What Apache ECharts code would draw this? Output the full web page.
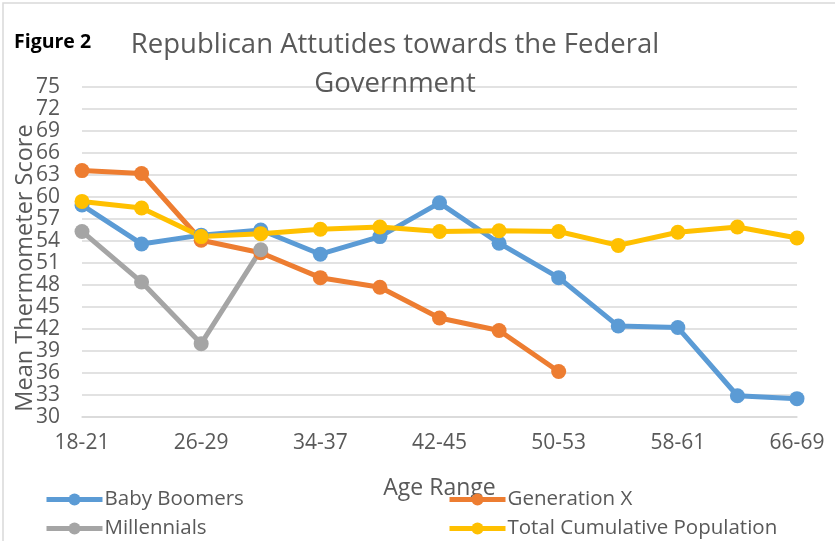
<!DOCTYPE html>
<html>
<head>
<meta charset="utf-8">
<script src="https://cdn.jsdelivr.net/npm/echarts@6/dist/echarts.min.js"></script>
<style>
  html, body { margin: 0; padding: 0; background: #fff; }
  #chart { width: 835px; height: 541px; }
</style>
</head>
<body>
<div id="chart"></div>
<script>
  // 年龄段
  var ageRanges = ['18-21', '22-25', '26-29', '30-33', '34-37', '38-41', '42-45',
                   '46-49', '50-53', '54-57', '58-61', '62-65', '66-69'];
  var babyBoomers = [58.9, 53.6, 54.8, 55.5, 52.2, 54.6, 59.2, 53.7, 49.0, 42.4, 42.2, 32.9, 32.5];
  var generationX = [63.6, 63.2, 54.1, 52.4, 49.0, 47.7, 43.5, 41.8, 36.2];
  var millennials = [55.3, 48.4, 40.0, 52.8];
  var totalPop = [59.4, 58.5, 54.6, 55.0, 55.6, 55.9, 55.3, 55.4, 55.3, 53.4, 55.2, 55.9, 54.4];

  var font = '"Open Sans", Lato, sans-serif';
  var grey = '#595959';

  var myChart = echarts.init(document.getElementById('chart'));

  function lineSeries(name, color, data) {
    return {
      name: name,
      type: 'line',
      data: data,
      symbol: 'circle',
      symbolSize: 15,
      lineStyle: { color: color, width: 5 },
      itemStyle: { color: color },
      animation: false
    };
  }

  function legendAt(name, left, top) {
    return {
      data: [name],
      left: left,
      top: top,
      itemWidth: 56,
      itemHeight: 15,
      itemGap: 4,
      padding: 0,
      lineStyle: { width: 5 },
      textStyle: { color: grey, fontSize: 20.5, fontFamily: font, padding: [0, 0, 0, -3] }
    };
  }

  var option = {
    backgroundColor: '#fff',
    title: [
      {
        text: 'Republican Attutides towards the Federal\nGovernment',
        left: 390,
        top: 21,
        textAlign: 'center',
        textStyle: { color: grey, fontSize: 27.5, fontWeight: 'normal', fontFamily: font, lineHeight: 39 }
      },
      {
        text: 'Figure 2',
        left: 9,
        top: 27,
        textStyle: { color: '#000', fontSize: 19.5, fontWeight: 'bold', fontFamily: font }
      }
    ],
    legend: [
      legendAt('Baby Boomers', 44, 489),
      legendAt('Generation X', 447, 489),
      legendAt('Millennials', 44, 518),
      legendAt('Total Cumulative Population', 447, 518)
    ],
    grid: { left: 82, right: 38, top: 87, bottom: 124 },
    xAxis: {
      type: 'category',
      data: ageRanges,
      boundaryGap: false,
      name: 'Age Range',
      nameLocation: 'middle',
      nameGap: 60,
      nameTextStyle: { color: grey, fontSize: 23, fontFamily: font },
      axisLine: { lineStyle: { color: '#D9D9D9', width: 1.5 } },
      axisTick: { show: false },
      axisLabel: { interval: 1, color: grey, fontSize: 21, fontFamily: font, margin: 16 }
    },
    yAxis: {
      type: 'value',
      min: 30,
      max: 75,
      interval: 3,
      axisLine: { show: false },
      axisTick: { show: false },
      axisLabel: { color: grey, fontSize: 21, fontFamily: font, margin: 22 },
      splitLine: { lineStyle: { color: '#D9D9D9', width: 1.5 } }
    },
    graphic: [
      {
        type: 'rect',
        shape: { x: 3, y: 3, width: 900, height: 600 },
        style: { fill: null, stroke: '#D9D9D9', lineWidth: 1.5 },
        silent: true
      },
      {
        // y轴标题
        type: 'text',
        x: 25,
        y: 268,
        rotation: Math.PI / 2,
        style: {
          text: 'Mean Thermometer Score',
          fill: grey,
          fontSize: 23.5,
          fontFamily: font,
          align: 'center',
          verticalAlign: 'middle'
        },
        silent: true
      }
    ],
    series: [
      lineSeries('Baby Boomers', '#5B9BD5', babyBoomers),
      lineSeries('Generation X', '#ED7D31', generationX),
      lineSeries('Millennials', '#A5A5A5', millennials),
      lineSeries('Total Cumulative Population', '#FFC000', totalPop)
    ]
  };
  myChart.setOption(option);
</script>
</body>
</html>
